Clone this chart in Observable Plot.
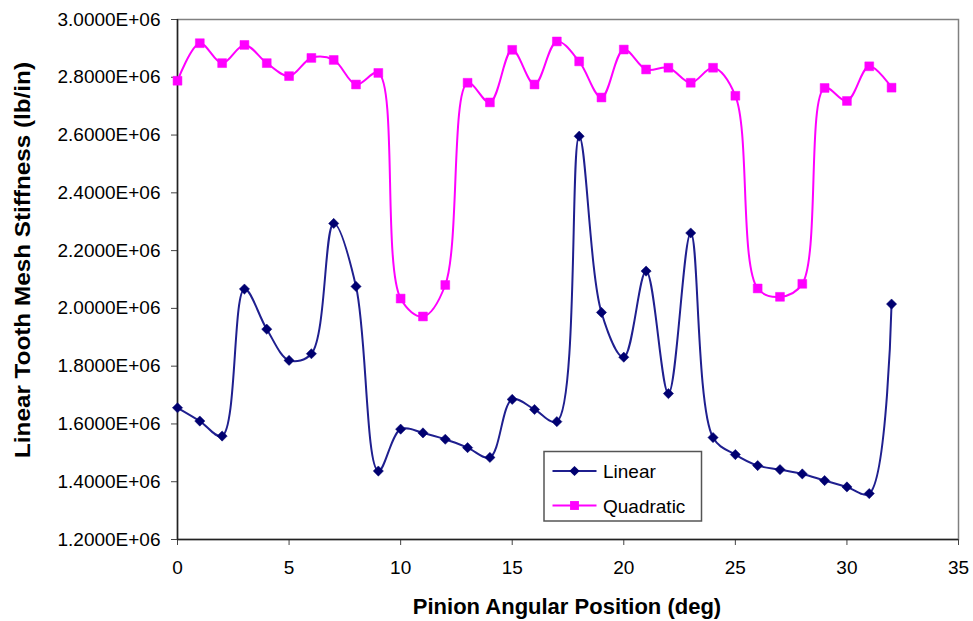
<!DOCTYPE html>
<html>
<head>
<meta charset="utf-8">
<script src="https://cdn.jsdelivr.net/npm/d3@7"></script>
<script src="https://cdn.jsdelivr.net/npm/@observablehq/plot@0.6"></script>
<style>
  html, body { margin: 0; padding: 0; background: #fff; }
  #chart { width: 973px; height: 621px; }
</style>
</head>
<body>
<div id="chart"></div>
<script>
const angles = [0,1,2,3,4,5,6,7,8,9,10,11,12,13,14,15,16,17,18,19,20,21,22,23,24,25,26,27,28,29,30,31,32];
const linear = [1.656,1.610,1.558,2.067,1.928,1.820,1.843,2.294,2.076,1.437,1.582,1.569,1.547,1.518,1.484,1.685,1.650,1.608,2.596,1.986,1.831,2.129,1.705,2.261,1.553,1.494,1.456,1.442,1.427,1.404,1.382,1.359,2.015].map(v => v * 1e6);
const quadratic = [2.788,2.918,2.849,2.912,2.849,2.804,2.867,2.860,2.775,2.815,2.034,1.972,2.081,2.781,2.713,2.895,2.775,2.924,2.855,2.730,2.896,2.827,2.833,2.781,2.833,2.736,2.069,2.040,2.085,2.763,2.718,2.838,2.764].map(v => v * 1e6);
const seriesNames = ["Linear", "Quadratic"];
const xTicks = [0,5,10,15,20,25,30,35];
const yTicks = [1.2e6,1.4e6,1.6e6,1.8e6,2.0e6,2.2e6,2.4e6,2.6e6,2.8e6,3.0e6];
const xTitle = "Pinion Angular Position (deg)";
const yTitle = "Linear Tooth Mesh Stiffness (lb/in)";

const linData = angles.map((a, i) => ({x: a, y: linear[i]}));
const quadData = angles.map((a, i) => ({x: a, y: quadratic[i]}));

const navyLine = "#1f1f8f", navyMark = "#000070", magenta = "#ff00ff";
const font = "'Liberation Sans', Arial, sans-serif";

const chart = Plot.plot({
  width: 973,
  height: 621,
  marginLeft: 177,
  marginRight: 15,
  marginTop: 19,
  marginBottom: 82,
  style: {fontFamily: font, background: "#fff", color: "#000"},
  x: {domain: [0, 35]},
  y: {domain: [1.2e6, 3.0e6]},
  marks: [
    Plot.frame({stroke: "#808080", strokeWidth: 1.5}),
    Plot.axisX({ticks: xTicks, tickSize: 6, tickPadding: 15, fontSize: 19, label: null, stroke: "#444"}),
    Plot.axisY({ticks: yTicks, tickSize: 6, tickPadding: 11, fontSize: 19, label: null, stroke: "#444",
      tickFormat: d => (d / 1e6).toFixed(4) + "E+06"}),
    Plot.ruleX([0], {stroke: "#222", strokeWidth: 1.5}),
    Plot.ruleY([1.2e6], {stroke: "#222", strokeWidth: 1.5}),
    Plot.line(quadData, {x: "x", y: "y", stroke: magenta, strokeWidth: 2, curve: "catmull-rom"}),
    Plot.line(linData, {x: "x", y: "y", stroke: navyLine, strokeWidth: 2, curve: "catmull-rom"}),
    Plot.dot(quadData, {x: "x", y: "y", symbol: "square", r: 5, fill: magenta, stroke: magenta, strokeWidth: 0.5}),
    Plot.dot(linData, {x: "x", y: "y", symbol: "diamond2", r: 4.6, fill: navyMark, stroke: navyMark, strokeWidth: 0.5})
  ]
});
document.getElementById("chart").appendChild(chart);

// Titles and legend overlay
const svg = d3.select(chart);
svg.append("text")
  .attr("x", 567).attr("y", 614)
  .attr("text-anchor", "middle")
  .attr("font-family", font).attr("font-weight", "bold").attr("font-size", 22)
  .text(xTitle);
svg.append("text")
  .attr("transform", "translate(30,260) rotate(-90)")
  .attr("text-anchor", "middle")
  .attr("font-family", font).attr("font-weight", "bold").attr("font-size", 22)
  .attr("textLength", 396).attr("lengthAdjust", "spacingAndGlyphs")
  .text(yTitle);

const lg = svg.append("g").attr("text-anchor", "start");
lg.append("rect").attr("x", 544).attr("y", 451.5).attr("width", 157.5).attr("height", 69.5)
  .attr("fill", "#fff").attr("stroke", "#555").attr("stroke-width", 1.5);
const legendItems = [
  {name: seriesNames[0], line: navyLine, mark: navyMark, sym: d3.symbolDiamond2, size: Math.PI * 4.6 * 4.6},
  {name: seriesNames[1], line: magenta, mark: magenta, sym: d3.symbolSquare, size: Math.PI * 5 * 5}
];
legendItems.forEach((it, i) => {
  const cy = 471 + i * 34.5;
  lg.append("line").attr("x1", 552.5).attr("x2", 596.5).attr("y1", cy).attr("y2", cy)
    .attr("stroke", it.line).attr("stroke-width", 2);
  lg.append("path").attr("transform", `translate(574.5,${cy})`)
    .attr("d", d3.symbol(it.sym, it.size)()).attr("fill", it.mark);
  lg.append("text").attr("x", 603).attr("y", cy + 7)
    .attr("text-anchor", "start")
    .attr("font-family", font).attr("font-size", 19).attr("fill", "#000")
    .text(it.name);
});
</script>
</body>
</html>
